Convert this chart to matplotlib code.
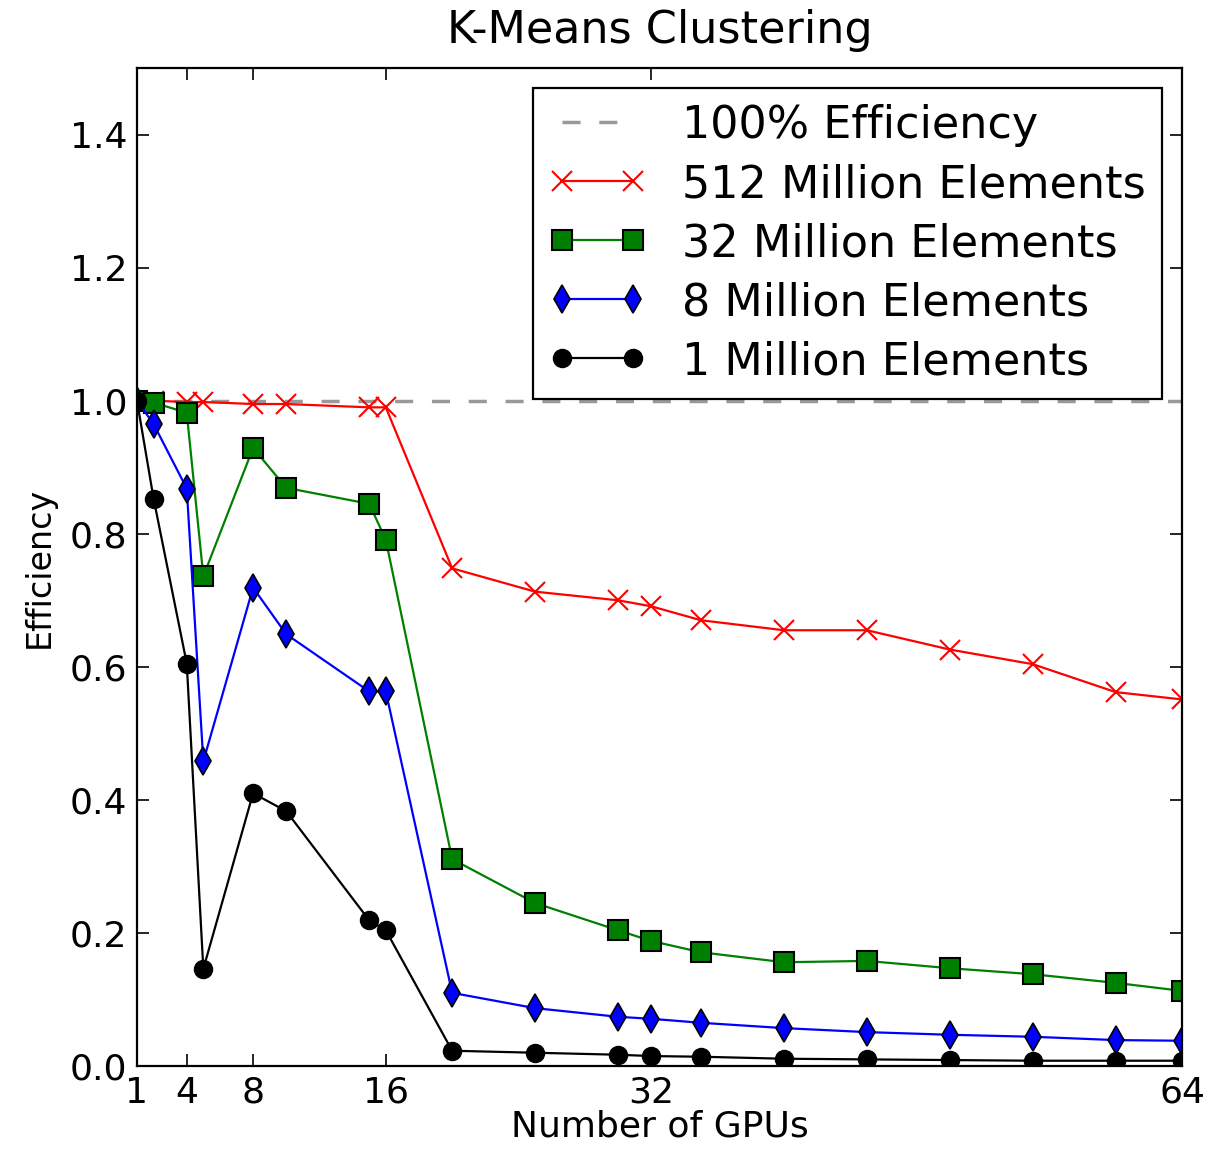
import matplotlib
matplotlib.use("Agg")
import matplotlib.pyplot as plt

# number of GPUs used in each run
gpus = [1, 2, 4, 5, 8, 10, 15, 16, 20, 25, 30, 32, 35, 40, 45, 50, 55, 60, 64]

eff_512m = [1.0, 1.0, 0.998, 0.998, 0.995, 0.995, 0.99, 0.99, 0.748, 0.713,
            0.700, 0.691, 0.670, 0.655, 0.655, 0.626, 0.604, 0.562, 0.551]
eff_32m = [1.0, 0.997, 0.982, 0.736, 0.929, 0.869, 0.845, 0.791, 0.311, 0.245,
           0.204, 0.188, 0.171, 0.156, 0.158, 0.147, 0.138, 0.125, 0.113]
eff_8m = [1.0, 0.965, 0.868, 0.458, 0.719, 0.649, 0.563, 0.563, 0.110, 0.087,
          0.074, 0.071, 0.065, 0.057, 0.051, 0.047, 0.044, 0.039, 0.038]
eff_1m = [1.0, 0.853, 0.605, 0.146, 0.410, 0.383, 0.219, 0.204, 0.023, 0.020,
          0.017, 0.015, 0.014, 0.011, 0.010, 0.009, 0.008, 0.008, 0.008]

xticks = [1, 4, 8, 16, 32, 64]
yticks = [0.0, 0.2, 0.4, 0.6, 0.8, 1.0, 1.2, 1.4]

fig = plt.figure(figsize=(12.09, 11.49), dpi=100)
ax = fig.add_axes([0.1133, 0.0722, 0.8644, 0.8686])

ax.axhline(1.0, color="0.6", lw=2.5, dashes=(5.2, 5.4), label="100% Efficiency")
ax.plot(gpus, eff_512m, color="red", marker="x", ms=14, mew=1.5, lw=1.6,
        label="512 Million Elements")
ax.plot(gpus, eff_32m, color="green", marker="s", ms=15, mfc="green",
        mec="black", mew=1.5, lw=1.6, label="32 Million Elements")
ax.plot(gpus, eff_8m, color="blue", marker="d", ms=14, mfc="blue",
        mec="black", mew=1.2, lw=1.6, label="8 Million Elements")
ax.plot(gpus, eff_1m, color="black", marker="o", ms=13, lw=1.6,
        label="1 Million Elements")

ax.set_xlim(1, 64)
ax.set_ylim(0, 1.5)
ax.set_xticks(xticks)
ax.set_yticks(yticks)
ax.set_yticklabels([f"{v:.1f}" for v in yticks])
ax.tick_params(direction="in", length=8.5, width=1.2, labelsize=26,
               top=True, right=True, pad=7)
for sp in ax.spines.values():
    sp.set_linewidth(1.6)

ax.set_title("K-Means Clustering", fontsize=32, pad=18)
ax.set_xlabel("Number of GPUs", fontsize=26, labelpad=0)
ax.set_ylabel("Efficiency", fontsize=24, labelpad=10)

leg = ax.legend(loc="upper right", fontsize=32, numpoints=2, fancybox=False,
                framealpha=1, edgecolor="black", labelspacing=0.36,
                handlelength=2.2, handletextpad=0.8, borderpad=0.36,
                borderaxespad=0.45)
leg.get_frame().set_linewidth(1.6)

fig.savefig("out.png", dpi=100)
